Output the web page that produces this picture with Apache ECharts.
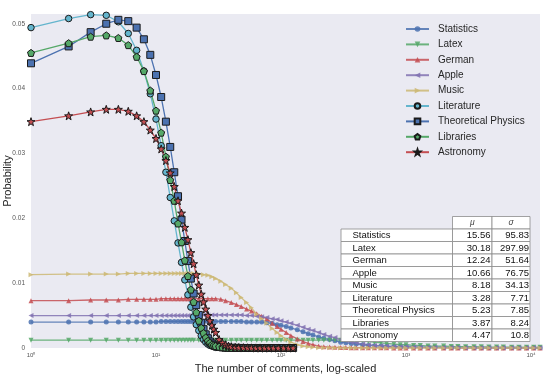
<!DOCTYPE html>
<html>
<head>
<meta charset="utf-8">
<script src="https://cdn.jsdelivr.net/npm/echarts@6/dist/echarts.min.js"></script>
<style>
html, body { margin: 0; padding: 0; background: #fff; }
#chart { width: 545px; height: 378px; }
</style>
</head>
<body>
<div id="chart"></div>
<script>
// x positions (number of comments)
var xSteep = [1,2,3,4,5,6,7,8,9,10,11,12,13,14,15,16,17,18,19,20,21,22,23,24,25,26,27,28,29,30,
    32,34,36,38,40,43,46,50,54,58,63,68,74,80,87,95,105,115,125];
var xFlat = [1,2,3,4,5,6,7,8,9,10,11,12,13,14,15,16,17,18,19,20,
    22,24,26,28,30, 33,36,40,44,48, 53,58,64,70,77, 85,93,100,110,120,
    135,150,165,180,200, 220,245,270,300,330, 365,400,450,500,560, 630,700,800,900,1000,
    1150,1300,1500,1700,2000, 2300,2600,3000,3500,4000, 4600,5300,6000,7000,8000, 9200,10500,11800];

// flat (heavy tailed) sites, values on xFlat
var statistics = [0.0040,0.0040,0.0040,0.0040,0.0040,0.0040,0.0040,0.0040,0.0040,0.0040,
    0.0041,0.0041,0.0041,0.0041,0.0041,0.0041,0.0041,0.0041,0.0041,0.0041,
    0.0041,0.0041,0.0041,0.0041,0.0041, 0.0041,0.0041,0.0041,0.0041,0.0041,
    0.0040,0.0040,0.0040,0.0040,0.0039, 0.0038,0.0036,0.0035,0.0033,0.0031,
    0.0028,0.0025,0.0022,0.0020,0.0017, 0.0015,0.0013,0.0011,0.0009,0.0008,
    0.0007,0.0006,0.0005,0.0004,0.00035, 0.0003,0.00027,0.00024,0.0002,0.00018,
    0.00016,0.00014,0.00012,0.0001,0.00009, 0.00008,0.00007,0.00006,0.00005,0.00005,
    0.00004,0.00004,0.00004,0.00004,0.00004, 0.00003,0.00003,0.00003];
var latex = [0.0012,0.0012,0.0012,0.0012,0.0012,0.0012,0.0012,0.0012,0.0012,0.0012,
    0.0012,0.0012,0.0012,0.0012,0.0012,0.0012,0.0012,0.0012,0.0012,0.0012,
    0.0012,0.0012,0.0012,0.0012,0.0012, 0.0012,0.0012,0.0012,0.0012,0.0012,
    0.0012,0.0012,0.0012,0.0012,0.0012, 0.0012,0.0012,0.0012,0.0012,0.0012,
    0.0012,0.0012,0.0012,0.0012,0.0012, 0.0012,0.0012,0.0012,0.0012,0.0012,
    0.0012,0.0011,0.0011,0.0010,0.0009, 0.0008,0.0007,0.0006,0.0005,0.0005,
    0.0004,0.0004,0.0003,0.0003,0.0003, 0.00025,0.00022,0.0002,0.0002,0.00018,
    0.00016,0.00015,0.00014,0.00013,0.00012, 0.00011,0.0001,0.0001];
var german = [0.0073,0.0073,0.0074,0.0074,0.0074,0.0075,0.0075,0.0075,0.0075,0.0075,
    0.0076,0.0076,0.0076,0.0076,0.0076,0.0076,0.0076,0.0076,0.0076,0.0076,
    0.0076,0.0076,0.0076,0.0076,0.0076, 0.0075,0.0073,0.0070,0.0067,0.0064,
    0.0060,0.0057,0.0053,0.0049,0.0045, 0.0038,0.0033,0.0029,0.0024,0.0019,
    0.0014,0.0010,0.0007,0.0005,0.0003, 0.0002,0.00015,0.0001,0.00008,0.00006,
    0.00005,0.00004,0.00003,0.00003,0.00002, 0.00002,0.00002,0.00001,0.00001,0.00001,
    0.00001,0.00001,0.00001,0.00001,0.00001, 0,0,0,0,0, 0,0,0,0,0, 0,0,0];
var apple = [0.0050,0.0050,0.0050,0.0050,0.0050,0.0050,0.0050,0.0050,0.0050,0.0050,
    0.0050,0.0050,0.0050,0.0050,0.0050,0.0050,0.0050,0.0050,0.0050,0.0050,
    0.0051,0.0051,0.0051,0.0051,0.0051, 0.0051,0.0051,0.0051,0.0051,0.0051,
    0.0050,0.0050,0.0049,0.0048,0.0047, 0.0045,0.0044,0.0042,0.0040,0.0038,
    0.0035,0.0032,0.0029,0.0027,0.0024, 0.0021,0.0018,0.0016,0.0013,0.0011,
    0.0009,0.0008,0.0006,0.0005,0.0004, 0.00035,0.0003,0.00025,0.0002,0.00018,
    0.00015,0.00013,0.00011,0.0001,0.00008, 0.00007,0.00006,0.00005,0.00005,0.00004,
    0.00003,0.00003,0.00003,0.00003,0.00003, 0.00002,0.00002,0.00002];
var music = [0.0113,0.0114,0.0114,0.0114,0.0114,0.0115,0.0115,0.0115,0.0115,0.0115,
    0.0115,0.0115,0.0115,0.0115,0.0115,0.0115,0.0115,0.0115,0.0115,0.0115,
    0.0114,0.0113,0.0112,0.0110,0.0107, 0.0103,0.0098,0.0092,0.0085,0.0078,
    0.0070,0.0062,0.0052,0.0045,0.0038, 0.0030,0.0024,0.0019,0.0013,0.0009,
    0.0005,0.0003,0.0002,0.0001,0.00005, 0.00003,0.00002,0.00001,0.00001,0.00001,
    0,0,0,0,0, 0,0,0,0,0, 0,0,0,0,0, 0,0,0,0,0, 0,0,0,0,0, 0,0,0];

// steep (peaked) sites, values on xSteep
var literature = [0.0494,0.0508,0.0514,0.0513,0.0503,0.0485,0.0459,0.0427,0.0392,0.0353,
    0.0312,0.0271,0.0232,0.0196,0.0162,0.0132,0.0105,0.0082,0.0063,0.0048,
    0.0036,0.0027,0.0019,0.0013,0.0009,0.0006,0.0004,0.0003,0.0002,0.0001,
    0.0001,0.00006,0.00004,0.00003,0.00002,0.00001,0.00001,0,0,0,0,0,0,0,0,0,0,0,0];
var theoPhysics = [0.0439,0.0465,0.0487,0.0500,0.0506,0.0504,0.0494,0.0476,0.0452,0.0421,
    0.0387,0.0349,0.0310,0.0271,0.0234,0.0198,0.0165,0.0134,0.0107,0.0084,
    0.0066,0.0051,0.0039,0.0029,0.0021,0.0015,0.0010,0.0007,0.0005,0.0003,
    0.00015,0.0001,0.00006,0.00004,0.00003,0.00002,0.00001,0,0,0,0,0,0,0,0,0,0,0,0];
var libraries = [0.0455,0.0470,0.0480,0.0482,0.0478,0.0467,0.0449,0.0427,0.0397,0.0366,
    0.0332,0.0295,0.0259,0.0227,0.0192,0.0163,0.0135,0.0111,0.0090,0.0071,
    0.0055,0.0042,0.0031,0.0023,0.0016,0.0011,0.0008,0.0005,0.0004,0.0003,
    0.0002,0.00012,0.00008,0.00005,0.00003,0.00002,0.00001,0.00001,0,0,0,0,0,0,0,0,0,0,0];
var astronomy = [0.0349,0.0358,0.0364,0.0368,0.0368,0.0365,0.0358,0.0349,0.0336,0.0323,
    0.0307,0.0289,0.0270,0.0249,0.0227,0.0208,0.0186,0.0167,0.0147,0.0130,
    0.0113,0.0097,0.0083,0.0071,0.0060,0.0050,0.0042,0.0035,0.0029,0.0024,
    0.0013,0.0008,0.0005,0.0003,0.0002,0.0001,0.00007,0.00005,0.00003,0.00002,0.00001,0.00001,0,0,0,0,0,0,0];

// table of mean / std
var tableNames = ['Statistics','Latex','German','Apple','Music','Literature','Theoretical Physics','Libraries','Astronomy'];
var tableMu = ['15.56','30.18','12.24','10.66','8.18','3.28','5.23','3.87','4.47'];
var tableSigma = ['95.83','297.99','51.64','76.75','34.13','7.71','7.85','8.24','10.8'];

var xTicks = [1, 10, 100, 1000, 10000];
var yTicks = [0, 0.01, 0.02, 0.03, 0.04, 0.05];

var FONT = '"Liberation Sans", Arial, sans-serif';
var sup = ['\u2070','\u00b9','\u00b2','\u00b3','\u2074'];
var star = 'path://M0,-10L2.35,-3.24L9.51,-3.09L3.8,1.24L5.88,8.09L0,4L-5.88,8.09L-3.8,1.24L-9.51,-3.09L-2.35,-3.24Z';
var pentagon = 'path://M0,-10L9.51,-3.09L5.88,8.09L-5.88,8.09L-9.51,-3.09Z';

function pairs(xs, ys) {
    return xs.map(function (x, i) { return [x, ys[i]]; });
}

function flat(name, ys, color, symbol, rotate) {
    return {
        name: name, type: 'line', data: pairs(xFlat, ys),
        symbol: symbol, symbolRotate: rotate, symbolSize: 5,
        itemStyle: {color: color, opacity: 0.85},
        lineStyle: {color: color, width: 1.3, opacity: 0.85}
    };
}

function steep(name, ys, color, symbol, size) {
    return {
        name: name, type: 'line', data: pairs(xSteep, ys),
        symbol: symbol, symbolSize: size,
        itemStyle: {color: color, borderColor: '#1a1a1a', borderWidth: 1},
        lineStyle: {color: color, width: 1.3}
    };
}

// table drawn with graphic elements
var tb = {left: 341, top: 216.5, rowH: 12.5, colW: [111.5, 39.5, 38]};
var graphics = [];
function cell(x, y, w, h) {
    graphics.push({type: 'rect', z: 100, shape: {x: x, y: y, width: w, height: h},
        style: {fill: '#fff', stroke: '#8c8c8c', lineWidth: 0.8}});
}
function txt(s, x, y, align, extra) {
    var st = {text: s, x: x, y: y, fill: '#111', fontSize: 9.5, fontFamily: FONT, align: align, verticalAlign: 'middle'};
    for (var k in extra) st[k] = extra[k];
    graphics.push({type: 'text', z: 101, style: st});
}
var c1 = tb.left + tb.colW[0], c2 = c1 + tb.colW[1], c3 = c2 + tb.colW[2];
cell(c1, tb.top, tb.colW[1], tb.rowH);
cell(c2, tb.top, tb.colW[2], tb.rowH);
txt('\u03bc', (c1 + c2) / 2, tb.top + tb.rowH / 2, 'center', {fontStyle: 'italic', fontSize: 8.5, fill: '#444'});
txt('\u03c3', (c2 + c3) / 2, tb.top + tb.rowH / 2, 'center', {fontStyle: 'italic', fontSize: 8.5, fill: '#444'});
tableNames.forEach(function (n, i) {
    var y = tb.top + tb.rowH * (i + 1);
    cell(tb.left, y, tb.colW[0], tb.rowH);
    cell(c1, y, tb.colW[1], tb.rowH);
    cell(c2, y, tb.colW[2], tb.rowH);
    txt(n, tb.left + 11.5, y + tb.rowH / 2 + 0.5, 'left');
    txt(tableMu[i], c2 - 1.5, y + tb.rowH / 2 + 0.5, 'right');
    txt(tableSigma[i], c3 - 1, y + tb.rowH / 2 + 0.5, 'right');
});

var option = {
    animation: false,
    textStyle: {fontFamily: FONT},
    grid: {left: 31, top: 14, right: 5, bottom: 30, containLabel: false, outerBoundsMode: 'none',
        show: true, backgroundColor: '#EAEAF2', borderWidth: 0},
    legend: {
        orient: 'vertical', left: 405, top: 24, padding: 0,
        itemWidth: 23, itemHeight: 7, itemGap: 5.4,
        selectedMode: false,
        textStyle: {fontSize: 10, color: '#262626', fontFamily: FONT, padding: [0, 0, 0, 4]},
        data: ['Statistics','Latex','German','Apple','Music','Literature','Theoretical Physics','Libraries','Astronomy']
    },
    xAxis: {
        type: 'log', logBase: 10, min: 1, max: 11800,
        name: 'The number of comments, log-scaled', nameLocation: 'middle', nameGap: 15,
        nameMoveOverlap: false,
        nameTextStyle: {fontSize: 11, color: '#262626'},
        axisLine: {show: false}, axisTick: {show: false}, splitLine: {show: false},
        axisLabel: {
            fontSize: 6, color: '#555', margin: 4, showMaxLabel: false,
            formatter: function (v) {
                var i = xTicks.indexOf(Math.round(v));
                return i < 0 ? '' : '10' + sup[i];
            }
        }
    },
    yAxis: {
        type: 'value', min: 0, max: 0.0515, interval: 0.01,
        name: 'Probability', nameLocation: 'middle', nameGap: 18,
        nameMoveOverlap: false,
        nameTextStyle: {fontSize: 11, color: '#262626'},
        axisLine: {show: false}, axisTick: {show: false}, splitLine: {show: false},
        axisLabel: {
            fontSize: 6.5, color: '#555', margin: 6, showMaxLabel: false,
            formatter: function (v) {
                var t = yTicks.find(function (a) { return Math.abs(a - v) < 1e-9; });
                if (t === undefined) return '';
                return t === 0 ? '0' : t.toFixed(2);
            }
        }
    },
    series: [
        flat('Statistics', statistics, '#4C72B0', 'circle', 0),
        flat('Latex', latex, '#55A868', 'triangle', 180),
        flat('German', german, '#C44E52', 'triangle', 0),
        flat('Apple', apple, '#8172B2', 'triangle', 90),
        flat('Music', music, '#CCB974', 'triangle', -90),
        steep('Literature', literature, '#64B5CD', 'circle', 6.5),
        steep('Theoretical Physics', theoPhysics, '#4C72B0', 'rect', 7),
        steep('Libraries', libraries, '#55A868', pentagon, 7),
        steep('Astronomy', astronomy, '#C44E52', star, 8)
    ],
    graphic: graphics
};

var myChart = echarts.init(document.getElementById('chart'));
myChart.setOption(option);
</script>
</body>
</html>
